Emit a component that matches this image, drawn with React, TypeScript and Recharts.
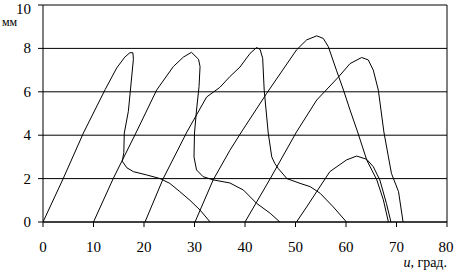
import React from 'react';
import { LineChart, Line, XAxis, YAxis, CartesianGrid, ReferenceLine } from 'recharts';

type Pt = { x: number; y: number };
const pts = (arr: number[][]): Pt[] => arr.map(([x, y]) => ({ x, y }));

// lift curves, u (deg) vs mm
const curve1 = pts([
    [0, 0], [4, 2], [8, 4.1], [12.3, 6.1], [14.6, 7.1], [16.2, 7.6], [17.2, 7.8], [17.8, 7.8], [17.9, 7.5],
    [16.9, 5.1], [16.1, 4.1], [16.0, 3.2], [15.7, 2.8], [16.6, 2.5], [17.9, 2.32], [20.5, 2.17], [23.2, 2.0],
    [25.1, 1.78], [27.1, 1.4], [29.1, 1.0], [31.1, 0.55], [33.1, 0],
]);
const curve2 = pts([
    [10, 0], [13.9, 2.0], [18.5, 4.15], [22.5, 6.08], [25.8, 7.16], [27.8, 7.6], [29.4, 7.82], [30.8, 7.5],
    [31.1, 7.16], [30.9, 6.24], [30.4, 5.16], [30.0, 4.1], [29.9, 3.0], [30.4, 2.4], [31.7, 2.09], [33.7, 1.94],
    [37.0, 1.8], [39.7, 1.47], [42.3, 0.86], [45, 0.4], [46.9, 0],
]);
const curve3 = pts([
    [20.2, 0], [23.8, 2.0], [28.5, 4.15], [32.4, 5.76], [35.0, 6.2], [37.0, 6.7], [39.0, 7.14], [41.0, 7.77],
    [42.3, 8.04], [43.0, 7.95], [43.5, 7.54], [43.8, 6.08], [44.6, 4.1], [45.3, 3.0], [45.9, 2.7], [46.6, 2.46],
    [48.3, 2.0], [50.9, 1.78], [52.9, 1.63], [54.9, 1.32], [57.5, 0.69], [60.1, 0],
]);
const curve4 = pts([
    [30.1, 0], [33.7, 1.94], [37.0, 3.3], [39.3, 4.15], [44.3, 5.93], [50.2, 7.93], [52.2, 8.39], [54.2, 8.58],
    [55.5, 8.46], [56.5, 8.08], [58.1, 7.0], [59.5, 6.08], [60.8, 5.16], [62.3, 4.15], [64.1, 2.86], [66.1, 1.94],
    [67.4, 1.02], [68.4, 0],
]);
const curve5 = pts([
    [40, 0], [45, 2.0], [50.2, 4.15], [54.2, 5.62], [58.5, 6.68], [60.8, 7.3], [63.1, 7.58], [64.4, 7.47],
    [65.4, 7.0], [66.4, 6.08], [67.5, 4.15], [68.4, 3.0], [69.0, 2.24], [70.4, 1.4], [71.3, 0],
]);
const curve6 = pts([
    [50.2, 0], [52.2, 0.69], [54.2, 1.4], [56.8, 2.32], [60.1, 2.86], [62.1, 3.04], [64.1, 2.89], [65.4, 2.55],
    [66.7, 1.94], [68.0, 0.86], [68.9, 0],
]);

const curves = [curve1, curve2, curve3, curve4, curve5, curve6];
const xTicks = [0, 10, 20, 30, 40, 50, 60, 70, 80];
const yTicks = [0, 2, 4, 6, 8, 10];

const serif = 'Times New Roman, Liberation Serif, serif';

const XTick = (props: any) => {
    const { x, y, payload } = props;
    return (
        <text x={x} y={y + 23} textAnchor="middle" fontFamily={serif} fontSize={15} fill="#000">
            {payload.value}
        </text>
    );
};

const YTick = (props: any) => {
    const { y, payload } = props;
    return (
        <text x={31} y={y + 5} textAnchor="end" fontFamily={serif} fontSize={15} fill="#000">
            {payload.value}
        </text>
    );
};

export default function App() {
    return (
        <div style={{ position: 'absolute', left: 0, top: 0, background: '#fff', fontFamily: serif }}>
            <LineChart width={454} height={271} margin={{ top: 5, right: 7, bottom: 19, left: 0 }}>
                <CartesianGrid vertical={false} stroke="#000" strokeWidth={1} />
                <XAxis
                    type="number"
                    dataKey="x"
                    domain={[0, 80]}
                    ticks={xTicks}
                    height={30}
                    tickSize={5}
                    axisLine={{ stroke: '#000' }}
                    tickLine={{ stroke: '#000' }}
                    tick={<XTick />}
                    allowDataOverflow
                />
                <YAxis
                    type="number"
                    dataKey="y"
                    domain={[0, 10]}
                    ticks={yTicks}
                    width={43}
                    tickSize={5}
                    axisLine={{ stroke: '#000' }}
                    tickLine={{ stroke: '#000' }}
                    tick={<YTick />}
                    allowDataOverflow
                />
                <ReferenceLine x={80} stroke="#000" />
                {curves.map((c, i) => (
                    <Line
                        key={i}
                        data={c}
                        dataKey="y"
                        type="linear"
                        stroke="#000"
                        strokeWidth={1}
                        dot={false}
                        isAnimationActive={false}
                    />
                ))}
                <text x={2} y={26} fontFamily={serif} fontSize={12} fill="#000">мм</text>
                <text x={447} y={267} textAnchor="end" fontFamily={serif} fontSize={14} fill="#000">
                    <tspan fontStyle="italic">u</tspan>, град.
                </text>
            </LineChart>
        </div>
    );
}
